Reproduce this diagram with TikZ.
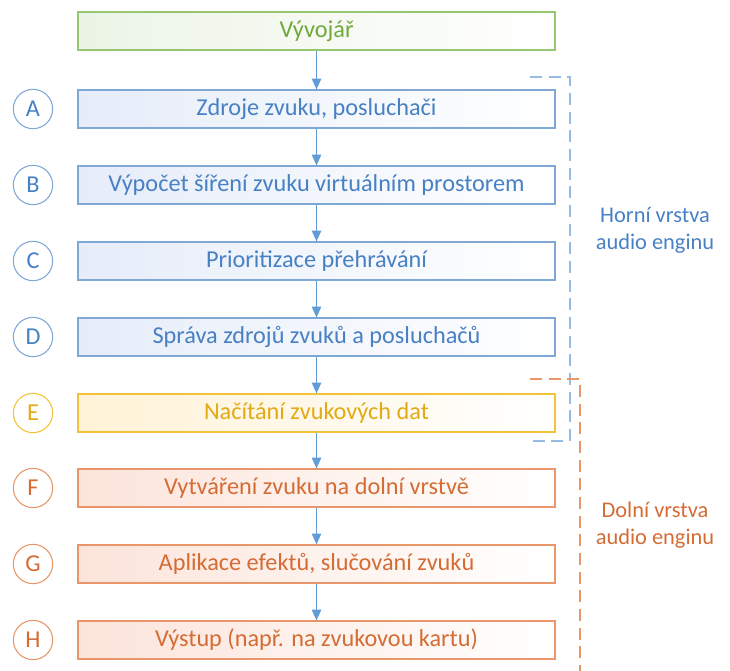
\documentclass[tikz,border=0pt]{standalone}
\usepackage{fontspec}
\setmainfont{Carlito}
\usetikzlibrary{arrows.meta}
\definecolor{grnline}{RGB}{150,198,112}
\definecolor{grntext}{RGB}{112,168,60}
\definecolor{grnfill}{RGB}{236,244,230}
\definecolor{bluline}{RGB}{128,168,214}
\definecolor{blutext}{RGB}{72,128,196}
\definecolor{blufill}{RGB}{230,237,249}
\definecolor{bludash}{RGB}{150,188,228}
\definecolor{yelline}{RGB}{242,194,56}
\definecolor{yeltext}{RGB}{226,170,20}
\definecolor{yelfill}{RGB}{255,242,214}
\definecolor{orgline}{RGB}{232,150,106}
\definecolor{orgtext}{RGB}{212,108,52}
\definecolor{orgfill}{RGB}{252,228,218}
\definecolor{arrowcol}{RGB}{96,156,214}
\begin{document}
\begin{tikzpicture}[x=0.75pt,y=-0.75pt,
    box/.style={draw, line width=0.9pt, minimum width=357.75pt, minimum height=28.5pt,
      right color=white, font=\fontsize{18.2}{20}\selectfont},
    letter/.style={circle, draw, fill=white, line width=0.8pt, minimum size=29.5pt,
      inner sep=0pt, font=\fontsize{18.2}{20}\selectfont},
    flow/.style={-{Triangle[length=8pt,width=7pt]}, arrowcol, line width=0.9pt},
    layer/.style={dashed, dash pattern=on 9pt off 5pt, line width=1.3pt},
    layertext/.style={align=center, font=\fontsize{16.8}{20}\selectfont}]
  \useasboundingbox (0,0) rectangle (730,670);
  % boxes
  \node[box, draw=grnline, left color=grnfill, text=grntext] (dev) at (316.5,31) {Vývojář};
  \node[box, draw=bluline, left color=blufill, text=blutext] (a) at (316.5,109) {Zdroje zvuku, posluchači};
  \node[box, draw=bluline, left color=blufill, text=blutext] (b) at (316.5,185) {Výpočet šíření zvuku virtuálním prostorem};
  \node[box, draw=bluline, left color=blufill, text=blutext] (c) at (316.5,261) {Prioritizace přehrávání};
  \node[box, draw=bluline, left color=blufill, text=blutext] (d) at (316.5,337) {Správa zdrojů zvuků a posluchačů};
  \node[box, draw=yelline, left color=yelfill, text=yeltext] (e) at (316.5,413) {Načítání zvukových dat};
  \node[box, draw=orgline, left color=orgfill, text=orgtext] (f) at (316.5,488) {Vytváření zvuku na dolní vrstvě};
  \node[box, draw=orgline, left color=orgfill, text=orgtext] (g) at (316.5,564) {Aplikace efektů, slučování zvuků};
  \node[box, draw=orgline, left color=orgfill, text=orgtext] (h) at (316.5,640) {Výstup (např. na zvukovou kartu)};
  % letters
  \node[letter, draw=bluline, text=blutext] (la) at (33,109) {A};
  \node[letter, draw=bluline, text=blutext] (lb) at (33,185) {B};
  \node[letter, draw=bluline, text=blutext] (lc) at (33,261) {C};
  \node[letter, draw=bluline, text=blutext] (ld) at (33,337) {D};
  \node[letter, draw=yelline, text=yeltext] (le) at (33,413) {E};
  \node[letter, draw=orgline, text=orgtext] (lf) at (33,488) {F};
  \node[letter, draw=orgline, text=orgtext] (lg) at (33,564) {G};
  \node[letter, draw=orgline, text=orgtext] (lh) at (33,640) {H};
  % arrows
  \draw[flow] (dev) -- (a);
  \draw[flow] (a) -- (b);
  \draw[flow] (b) -- (c);
  \draw[flow] (c) -- (d);
  \draw[flow] (d) -- (e);
  \draw[flow] (e) -- (f);
  \draw[flow] (f) -- (g);
  \draw[flow] (g) -- (h);
  % layers
  \coordinate (up1) at (530,77);
  \coordinate (up2) at (570,77);
  \coordinate (up3) at (570,441);
  \coordinate (up4) at (530,441);
  \draw[layer, bludash] (up1) -- (up2) -- (up3) -- (up4);
  \coordinate (lo1) at (530,379);
  \coordinate (lo2) at (580,379);
  \coordinate (lo3) at (580,672);
  \draw[layer, orgline] (lo1) -- (lo2) -- (lo3);
  \node[layertext, text=blutext] (upper) at (655,230) {Horní vrstva\\audio enginu};
  \node[layertext, text=orgtext] (lower) at (655,525) {Dolní vrstva\\audio enginu};
\end{tikzpicture}
\end{document}
